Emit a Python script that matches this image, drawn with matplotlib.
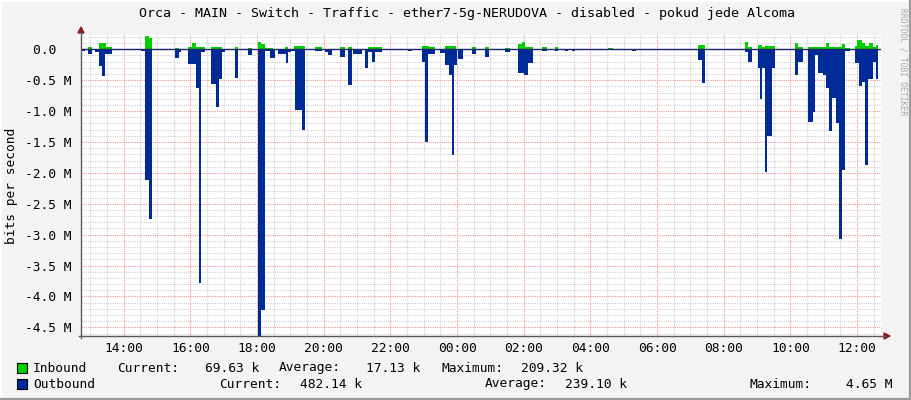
import matplotlib
matplotlib.use("Agg")
import matplotlib.pyplot as plt
import numpy as np
from matplotlib.patches import Polygon, Rectangle
from matplotlib.lines import Line2D

W, H = 911, 400
MONO = "DejaVu Sans Mono"

# ---------------- data (time = minutes since window start 12:43) ----------------
# each value holds until the next time stamp (rrd step data), values in Mbit/s
out_t = [0, 3.6, 7.2, 12.6, 19.8, 25.2, 31.5, 37.3, 43.2, 55.3,
         108, 115.2, 121.9, 126.9, 169.2, 176.4, 180, 192.6, 207, 211.5,
         215.5, 223.2, 234, 243, 247.5, 253.3, 259.2, 277.2, 283.1, 300.1,
         307.3, 318.1, 323.5, 331.2, 340.2, 349.2, 355.1, 369, 373.1, 378,
         385.2, 397.3, 403.2, 421.2, 433.3, 439.2, 445.1, 451.3, 466.2, 475.2,
         481.1, 487.3, 489.6, 505.3, 511.2, 517.1, 523.3, 529.2, 541.3, 588.6,
         595.3, 613.3, 619.2, 625.1, 637.2, 646.2, 655.2, 662.4, 667.3, 671.4,
         676.3, 679.1, 688.1, 703.3, 710.5, 727.2, 734.4, 763.2, 772.2, 787.1,
         797.4, 805.1, 813.1, 829.3, 838.3, 853.2, 859.1, 871.2, 876.6, 883.3,
         889.2, 991.3, 999, 1111.1, 1117.3, 1123.2, 1195.2, 1201.1, 1207.3, 1218.1,
         1222.2, 1226.3, 1231.5, 1235.3, 1243.3, 1249.2, 1285.2, 1291.1, 1299.1, 1309.1,
         1317.1, 1321.2, 1327.1, 1335.1, 1341, 1346.4, 1352.3, 1358.5, 1364.4, 1370.3,
         1375.2, 1384.2, 1393.2, 1400.4, 1406.3, 1411.2, 1417.1, 1425.1, 1431, 1435.1]
out_v = [-0.02, -0.03, 0, -0.08, 0, -0.05, -0.27, -0.43, -0.08, 0,
         -0.03, -2.11, -2.74, 0, -0.14, -0.05, 0, -0.24, -0.63, -3.79,
         -0.05, 0, -0.57, -0.93, -0.48, -0.05, 0, -0.46, 0, -0.09,
         0, -4.65, -4.22, -0.03, -0.14, 0, -0.07, -0.22, -0.05, -0.02,
         -0.98, -1.30, 0, -0.02, 0, -0.05, -0.09, 0, -0.13, 0,
         -0.58, 0, -0.07, 0, -0.31, -0.05, -0.20, -0.05, 0, -0.02,
         0, -0.20, -1.50, -0.07, 0, -0.06, -0.25, -0.42, -1.71, -0.25,
         0, -0.15, 0, -0.07, 0, -0.13, 0, -0.04, 0, -0.38,
         -0.41, -0.22, 0, -0.02, 0, -0.02, 0, -0.02, 0, -0.02,
         0, -0.02, 0, -0.17, -0.54, 0, -0.04, -0.20, 0, -0.30,
         -0.81, -0.30, -1.99, -1.41, -0.30, 0, -0.42, -0.21, 0, -1.17,
         -1.02, -0.09, -0.39, -0.42, -0.62, -1.33, -0.79, -1.19, -3.07, -1.96,
         -0.03, 0, -0.23, -0.60, -0.53, -1.88, -0.48, -0.20, -0.48, 0]

in_t = [0, 1.8, 7.2, 12.6, 19.8, 31.5, 45, 55.8, 115.2, 121.9,
        126.9, 169.2, 176.4, 192.6, 199.3, 207, 223.2, 234, 253.3, 259.2,
        277.2, 283.1, 300.1, 307.3, 318.1, 324, 331.2, 345.6, 367.2, 373.1,
        383.4, 403.2, 421.2, 433.3, 466.2, 475.2, 481.1, 487.3, 505.3, 517.1,
        541.3, 613.3, 626.4, 637.2, 655.2, 675, 688.1, 703.3, 710.5, 727.2,
        734.4, 763.2, 772.2, 787.1, 793.1, 799.2, 813.1, 829.3, 838.3, 853.2,
        859.1, 948.6, 957.1, 1111.1, 1123.2, 1195.2, 1201.1, 1207.3, 1218.1, 1225.3,
        1231.2, 1249.2, 1285.2, 1291.1, 1299.1, 1309.1, 1335.1, 1341, 1346.4, 1369.3,
        1375.2, 1384.2, 1393.2, 1397.3, 1405.3, 1411.2, 1418.9, 1425.6, 1431, 1435.1]
in_v = [0.03, 0.01, 0, 0.03, 0, 0.10, 0.03, 0, 0.215, 0.18,
        0, 0.02, 0, 0.03, 0.10, 0.04, 0, 0.03, 0.01, 0,
        0.03, 0, 0.02, 0, 0.11, 0.09, 0.02, 0, 0.03, 0,
        0.06, 0, 0.03, 0, 0.03, 0, 0.04, 0.01, 0, 0.04,
        0, 0.06, 0.03, 0, 0.06, 0.01, 0, 0.04, 0, 0.04,
        0, 0.02, 0, 0.08, 0.12, 0.04, 0, 0.03, 0, 0.03,
        0, 0.02, 0, 0.07, 0, 0.11, 0.04, 0, 0.07, 0.03,
        0.06, 0, 0.10, 0.03, 0, 0.03, 0.03, 0.10, 0.03, 0.09,
        0.02, 0, 0.05, 0.15, 0.10, 0.05, 0.10, 0.03, 0.07, 0]

x_tick_min = [77, 197, 317, 437, 557, 677, 797, 917, 1037, 1157, 1277, 1397]
x_labels = ["14:00", "16:00", "18:00", "20:00", "22:00", "00:00",
            "02:00", "04:00", "06:00", "08:00", "10:00", "12:00"]
y_ticks_M = [0.0, -0.5, -1.0, -1.5, -2.0, -2.5, -3.0, -3.5, -4.0, -4.5]
y_labels = ["0.0  ", "-0.5 M", "-1.0 M", "-1.5 M", "-2.0 M", "-2.5 M",
            "-3.0 M", "-3.5 M", "-4.0 M", "-4.5 M"]

title = "Orca - MAIN - Switch - Traffic - ether7-5g-NERUDOVA - disabled - pokud jede Alcoma"
legend_rows = [
    ("Inbound", "#00CF00", [("Current:", 117, "left"), ("69.63 k", 259, "right"),
                            ("Average:", 279, "left"), ("17.13 k", 420, "right"),
                            ("Maximum:", 441, "left"), ("209.32 k", 583, "right")]),
    ("Outbound", "#002A97", [("Current:", 219, "left"), ("482.14 k", 362, "right"),
                             ("Average:", 485, "left"), ("239.10 k", 627, "right"),
                             ("Maximum:", 750, "left"), ("4.65 M", 893, "right")]),
]

# ---------------- figure ----------------
fig = plt.figure(figsize=(W / 100, H / 100), dpi=100, facecolor="#F3F3F3")

def fx(x):
    return x / W

def fy(y):
    return 1 - y / H

L, R, T, B = 81, 881, 35, 336
ax = fig.add_axes([fx(L), fy(B), (R - L) / W, (B - T) / H])
ax.set_facecolor("#FFFFFF")

ymin, ymax = -4.64e6, 0.231e6
ax.set_xlim(0, 1440)
ax.set_ylim(ymin, ymax)

# grid
ax.set_xticks(x_tick_min)
ax.set_xticks(np.arange(17, 1440, 30), minor=True)
ax.set_yticks([v * 1e6 for v in y_ticks_M])
ax.set_yticks(np.arange(-46, 3) * 1e5, minor=True)
ax.set_axisbelow(True)
ax.grid(which="minor", color="#D0D0D0", linestyle=(0, (1, 1)), linewidth=0.8)
ax.grid(which="major", color="#F09494", linestyle=(0, (1, 1)), linewidth=0.8)

ax.set_xticklabels(x_labels, fontfamily=MONO, fontsize=9.3)
ax.set_yticklabels(y_labels, fontfamily=MONO, fontsize=9.3)
ax.tick_params(axis="both", which="both", length=0)
ax.tick_params(axis="y", pad=6.5)
ax.tick_params(axis="x", pad=4.5)
for s in ax.spines.values():
    s.set_visible(False)

# data
ot = np.array(out_t)
ov = np.array(out_v) * 1e6
it = np.array(in_t)
iv = np.array(in_v) * 1e6
ax.fill_between(ot, ov, 0, step="post", color="#002A97", linewidth=0, zorder=2)
ax.fill_between(it, iv, 0, step="post", color="#00CF00", linewidth=0, zorder=2)
ax.axhline(0, color="#1A246E", linewidth=1.0, zorder=3)

# axes lines & arrows
axcol = "#5A5A5A"
fig.add_artist(Line2D([fx(L), fx(L)], [fy(B + 2), fy(T - 3)], color=axcol, lw=1))
fig.add_artist(Line2D([fx(L - 2), fx(R + 4)], [fy(B), fy(B)], color=axcol, lw=1))
arrow_col = "#8B1C1C"
fig.add_artist(Polygon([[fx(L - 3), fy(T - 2)], [fx(L + 3), fy(T - 2)], [fx(L), fy(T - 8)]],
                       closed=True, color=arrow_col, transform=fig.transFigure))
fig.add_artist(Polygon([[fx(R + 3), fy(B - 3)], [fx(R + 3), fy(B + 3)], [fx(R + 9), fy(B)]],
                       closed=True, color=arrow_col, transform=fig.transFigure))

# texts
fig.text(fx(467), fy(14), title, ha="center", va="center", fontfamily=MONO, fontsize=9.6,
         color="#000000")
fig.text(fx(12), fy(186), "bits per second", rotation=90, ha="center", va="center",
         fontfamily=MONO, fontsize=9.3)
fig.text(fx(903), fy(8), "RRDTOOL / TOBI OETIKER", rotation=270, ha="center", va="top",
         fontfamily=MONO, fontsize=5.8, color="#AAAAAA")

row_y = [368, 384]
for (name, col, items), yy in zip(legend_rows, row_y):
    fig.add_artist(Rectangle((fx(17), fy(yy + 5)), 10 / W, 10 / H, facecolor=col,
                             edgecolor="#000000", linewidth=0.8, transform=fig.transFigure))
    fig.text(fx(33), fy(yy), name, ha="left", va="center", fontfamily=MONO, fontsize=9.3)
    for txt, xx, al in items:
        fig.text(fx(xx), fy(yy), txt, ha=al, va="center", fontfamily=MONO, fontsize=9.3)

# 3D frame
fig.add_artist(Line2D([0, 0], [0, 1], color="#FFFFFF", lw=2, transform=fig.transFigure))
fig.add_artist(Line2D([0, 1], [1, 1], color="#FFFFFF", lw=2, transform=fig.transFigure))
fig.add_artist(Line2D([1, 1], [0, 1], color="#9A9A9A", lw=3, transform=fig.transFigure))
fig.add_artist(Line2D([0, 1], [0, 0], color="#9A9A9A", lw=3, transform=fig.transFigure))

fig.savefig("out.png", dpi=100, facecolor=fig.get_facecolor())
